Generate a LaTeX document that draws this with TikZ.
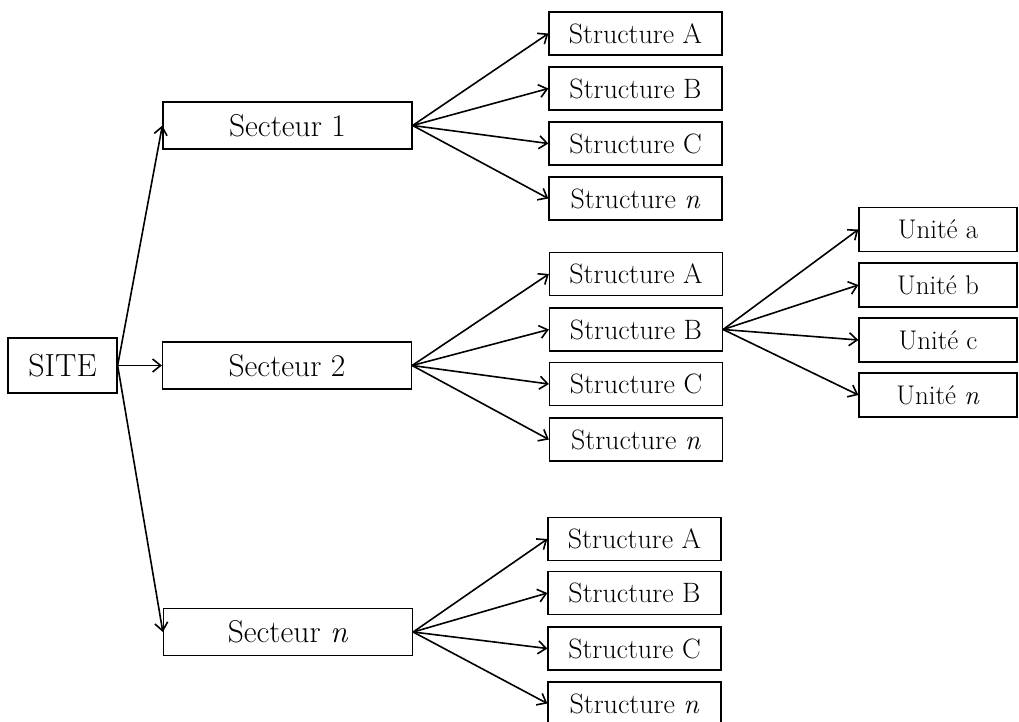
\documentclass[tikz,border=0pt]{standalone}
\usetikzlibrary{arrows.meta}
\begin{document}
\begin{tikzpicture}[x=1pt,y=-1pt,
  box/.style={draw,line width=1.3pt,inner sep=0pt,font=\fontsize{28}{32}\selectfont},
  site/.style={box,minimum width=109pt,minimum height=55pt,font=\fontsize{32}{36}\selectfont},
  sect/.style={box,minimum width=249pt,minimum height=47pt,font=\fontsize{31.5}{35}\selectfont},
  struct/.style={box,minimum width=173pt,minimum height=43pt},
  unit/.style={box,minimum width=158pt,minimum height=44pt,font=\fontsize{27}{30}\selectfont},
  conn/.style={line width=1.6pt,-{Straight Barb[length=8pt,width=13pt,line width=1.6pt]}}]
\useasboundingbox (0,0) rectangle (1019,721);
\node[site] (site) at (62.5,365.5) {SITE};
\node[sect] (s1) at (287.5,125.5) {Secteur 1};
\node[sect] (s2) at (287,365.5) {Secteur 2};
\node[sect] (sn) at (288,632) {Secteur \textit{n}};
% group 1
\node[struct] (a1) at (635.5,33.5) {Structure A};
\node[struct] (b1) at (635.5,88.5) {Structure B};
\node[struct] (c1) at (635.5,143.5) {Structure C};
\node[struct] (n1) at (635.5,198.5) {Structure \textit{n}};
% group 2
\node[struct] (a2) at (636,274) {Structure A};
\node[struct] (b2) at (636,329.5) {Structure B};
\node[struct] (c2) at (636,384) {Structure C};
\node[struct] (n2) at (636,439.5) {Structure \textit{n}};
% group 3
\node[struct] (a3) at (634.5,539) {Structure A};
\node[struct] (b3) at (634.5,593) {Structure B};
\node[struct] (c3) at (634.5,648.5) {Structure C};
\node[struct] (n3) at (634.5,703.5) {Structure \textit{n}};
% units
\node[unit] (ua) at (938,229.5) {Unité a};
\node[unit] (ub) at (938,285) {Unité b};
\node[unit] (uc) at (938,340) {Unité c};
\node[unit] (un) at (938,395) {Unité \textit{n}};
% connectors
\foreach \s in {s1,s2,sn} \draw[conn] (site.east) -- (\s.west);
\foreach \t in {a1,b1,c1,n1} \draw[conn] (s1.east) -- (\t.west);
\foreach \t in {a2,b2,c2,n2} \draw[conn] (s2.east) -- (\t.west);
\foreach \t in {a3,b3,c3,n3} \draw[conn] (sn.east) -- (\t.west);
\foreach \t in {ua,ub,uc,un} \draw[conn] (b2.east) -- (\t.west);
\end{tikzpicture}
\end{document}
